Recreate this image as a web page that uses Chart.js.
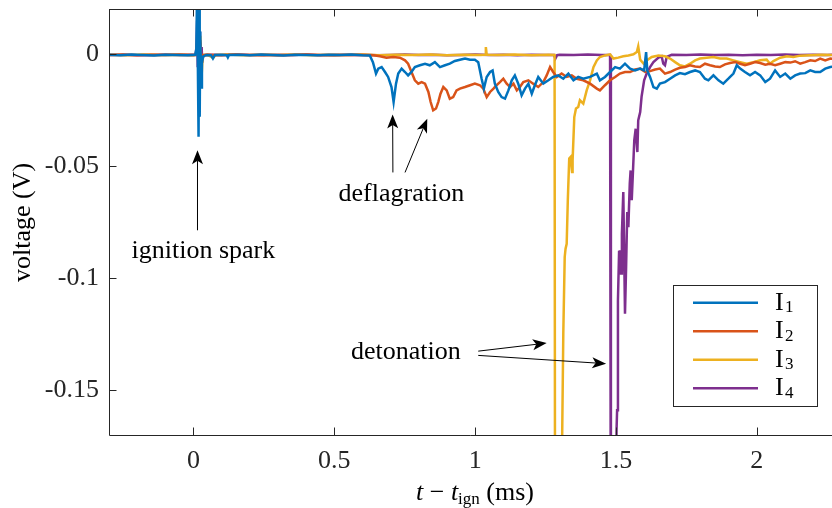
<!DOCTYPE html>
<html>
<head>
<meta charset="utf-8">
<script src="https://cdn.jsdelivr.net/npm/chart.js@4/dist/chart.umd.min.js"></script>
<style>
html,body{margin:0;padding:0;background:#fff;}
#wrap{width:832px;height:508px;position:relative;}
</style>
</head>
<body>
<div id="wrap"><canvas id="c" width="832" height="508"></canvas></div>
<script>
// ---------- data (t in ms, voltage in V) ----------
const seriesNames = ['I1', 'I2', 'I3', 'I4'];
const xTicks = [0, 0.5, 1, 1.5, 2];
const yTicks = [-0.15, -0.1, -0.05, 0];

const I1 = [
[-0.30,-0.0004],[-0.26,-0.0006],[-0.22,-0.0003],[-0.18,-0.0005],[-0.14,-0.0007],[-0.10,-0.0004],[-0.06,-0.0005],[-0.02,-0.0006],
[0.006,-0.0004],[0.010,0.002],[0.013,0.030],[0.016,-0.012],[0.018,-0.037],[0.020,0.025],[0.022,-0.028],[0.024,0.010],[0.027,-0.015],[0.030,-0.004],[0.034,-0.0012],
[0.045,-0.0005],[0.062,-0.0006],[0.069,-0.0021],[0.076,-0.0005],[0.10,-0.0004],[0.118,-0.0006],[0.122,-0.0016],[0.126,-0.0005],
[0.16,-0.0004],[0.20,-0.0006],[0.24,-0.0003],[0.28,-0.0005],[0.32,-0.0007],[0.36,-0.0004],[0.40,-0.0005],[0.44,-0.0006],[0.48,-0.0004],[0.52,-0.0005],[0.56,-0.0003],[0.60,-0.0006],
[0.626,-0.0007],[0.637,-0.0037],[0.648,-0.0088],[0.656,-0.0066],[0.668,-0.0059],[0.680,-0.0081],[0.691,-0.0103],[0.703,-0.0148],[0.7105,-0.0215],[0.719,-0.0133],
[0.727,-0.0088],[0.739,-0.0066],[0.751,-0.0081],[0.762,-0.0096],[0.774,-0.0081],[0.786,-0.0059],[0.804,-0.0051],[0.822,-0.0044],[0.839,-0.0051],[0.857,-0.0037],
[0.875,-0.0059],[0.893,-0.0051],[0.910,-0.0044],[0.928,-0.0032],[0.946,-0.0026],[0.964,-0.0021],[0.982,-0.0026],[0.999,-0.0026],[1.011,-0.0037],[1.023,-0.0111],
[1.031,-0.0155],[1.041,-0.0103],[1.053,-0.0081],[1.062,-0.0074],[1.070,-0.0133],[1.082,-0.0170],[1.094,-0.0193],[1.106,-0.0200],[1.118,-0.0163],[1.130,-0.0118],
[1.141,-0.0096],[1.153,-0.0133],[1.165,-0.0185],[1.177,-0.0155],[1.189,-0.0133],[1.201,-0.0178],[1.212,-0.0140],[1.224,-0.0103],[1.242,-0.0133],[1.260,-0.0118],
[1.277,-0.0103],[1.295,-0.0096],[1.313,-0.0111],[1.331,-0.0088],[1.349,-0.0118],[1.366,-0.0103],[1.384,-0.0111],[1.408,-0.0103],[1.432,-0.0088],[1.443,-0.0118],
[1.461,-0.0103],[1.479,-0.0081],[1.497,-0.0059],[1.514,-0.0066],[1.532,-0.0044],[1.550,-0.0066],[1.568,-0.0074],[1.586,-0.0066],[1.600,-0.0074],[1.607,0.0008],
[1.611,-0.0074],[1.621,-0.0103],[1.633,-0.0148],[1.645,-0.0155],[1.656,-0.0133],[1.674,-0.0126],[1.692,-0.0111],[1.710,-0.0096],[1.727,-0.0086],[1.745,-0.0091],
[1.763,-0.0081],[1.781,-0.0074],[1.798,-0.0081],[1.816,-0.0111],[1.828,-0.0118],[1.846,-0.0096],[1.864,-0.0118],[1.881,-0.0133],[1.899,-0.0111],[1.917,-0.0088],
[1.929,-0.0051],[1.941,-0.0066],[1.958,-0.0081],[1.976,-0.0096],[1.994,-0.0081],[2.012,-0.0096],[2.030,-0.0126],[2.047,-0.0111],[2.065,-0.0074],[2.083,-0.0103],
[2.101,-0.0088],[2.119,-0.0111],[2.136,-0.0096],[2.154,-0.0088],[2.172,-0.0086],[2.190,-0.0074],[2.207,-0.0081],[2.225,-0.0081],[2.243,-0.0066],[2.261,-0.0059],[2.28,-0.0055]
];

const I2 = [
[-0.30,-0.0005],[-0.25,-0.0003],[-0.20,-0.0006],[-0.15,-0.0004],[-0.10,-0.0005],[-0.05,-0.0003],[0.0,-0.0005],
[0.008,-0.0004],[0.012,0.003],[0.016,0.014],[0.020,-0.008],[0.024,0.005],[0.028,-0.003],[0.034,-0.0006],
[0.05,-0.0004],[0.10,-0.0006],[0.15,-0.0003],[0.20,-0.0005],[0.25,-0.0004],[0.30,-0.0006],[0.35,-0.0005],[0.40,-0.0003],[0.45,-0.0005],[0.50,-0.0006],[0.55,-0.0004],[0.60,-0.0005],[0.64,-0.0006],
[0.662,-0.0011],[0.685,-0.0017],[0.709,-0.0014],[0.733,-0.0017],[0.751,-0.0029],[0.762,-0.0044],[0.774,-0.0081],[0.786,-0.0118],[0.798,-0.0133],[0.810,-0.0126],
[0.822,-0.0133],[0.834,-0.0170],[0.842,-0.0215],[0.851,-0.0252],[0.861,-0.0244],[0.869,-0.0215],[0.877,-0.0178],[0.887,-0.0148],[0.899,-0.0163],[0.910,-0.0200],
[0.922,-0.0193],[0.934,-0.0163],[0.946,-0.0155],[0.964,-0.0148],[0.982,-0.0140],[0.999,-0.0133],[1.017,-0.0140],[1.029,-0.0155],[1.041,-0.0193],[1.053,-0.0170],
[1.065,-0.0155],[1.076,-0.0140],[1.088,-0.0126],[1.100,-0.0111],[1.112,-0.0133],[1.124,-0.0148],[1.136,-0.0133],[1.148,-0.0163],[1.159,-0.0148],[1.171,-0.0126],
[1.189,-0.0118],[1.206,-0.0133],[1.224,-0.0148],[1.242,-0.0126],[1.254,-0.0096],[1.266,-0.0059],[1.277,-0.0081],[1.290,-0.0103],[1.307,-0.0088],[1.325,-0.0103],
[1.343,-0.0096],[1.361,-0.0111],[1.384,-0.0118],[1.408,-0.0133],[1.432,-0.0155],[1.443,-0.0163],[1.461,-0.0140],[1.479,-0.0118],[1.497,-0.0103],[1.514,-0.0088],
[1.532,-0.0081],[1.550,-0.0081],[1.568,-0.0070],[1.586,-0.0066],[1.604,-0.0081],[1.621,-0.0077],[1.639,-0.0070],[1.656,-0.0066],[1.674,-0.0088],[1.692,-0.0081],
[1.710,-0.0070],[1.727,-0.0062],[1.745,-0.0059],[1.763,-0.0051],[1.781,-0.0056],[1.798,-0.0059],[1.816,-0.0044],[1.834,-0.0051],[1.852,-0.0056],[1.869,-0.0059],
[1.887,-0.0047],[1.905,-0.0041],[1.923,-0.0037],[1.941,-0.0044],[1.958,-0.0051],[1.976,-0.0044],[1.994,-0.0037],[2.012,-0.0041],[2.030,-0.0048],[2.047,-0.0044],
[2.065,-0.0051],[2.083,-0.0044],[2.101,-0.0037],[2.119,-0.0039],[2.136,-0.0033],[2.154,-0.0044],[2.172,-0.0037],[2.190,-0.0029],[2.207,-0.0032],[2.225,-0.0021],
[2.243,-0.0029],[2.261,-0.0021],[2.28,-0.0024]
];

const I3 = [
[-0.30,-0.0004],[-0.24,-0.0006],[-0.18,-0.0003],[-0.12,-0.0005],[-0.06,-0.0004],[0.0,-0.0006],
[0.008,-0.0004],[0.012,0.002],[0.016,0.015],[0.020,-0.0193],[0.024,0.008],[0.028,-0.012],[0.032,-0.002],[0.036,-0.0005],
[0.05,-0.0004],[0.069,-0.0018],[0.08,-0.0005],[0.12,-0.0003],[0.18,-0.0006],[0.24,-0.0004],[0.30,-0.0005],[0.36,-0.0003],[0.42,-0.0006],[0.48,-0.0004],
[0.54,-0.0005],[0.60,-0.0003],[0.66,-0.0006],[0.72,-0.0004],[0.78,-0.0005],[0.84,-0.0003],[0.90,-0.0006],[0.96,-0.0004],[1.02,-0.0005],
[1.035,-0.0004],[1.038,0.0030],[1.041,-0.0004],[1.08,-0.0005],[1.14,-0.0003],[1.20,-0.0006],[1.26,-0.0004],[1.282,-0.0005],
[1.284,-0.25],[1.306,-0.25],[1.309,-0.1700],[1.313,-0.1247],[1.318,-0.0906],[1.321,-0.0869],[1.325,-0.0847],[1.329,-0.0653],[1.334,-0.0467],[1.339,-0.0460],
[1.344,-0.0527],[1.346,-0.0475],[1.352,-0.0282],[1.358,-0.0244],[1.366,-0.0237],[1.372,-0.0207],[1.384,-0.0222],[1.396,-0.0163],[1.408,-0.0118],[1.420,-0.0059],
[1.432,-0.0029],[1.443,-0.0014],[1.461,-0.0007],[1.479,-0.0002],[1.491,-0.0021],[1.508,-0.0017],[1.526,-0.0011],[1.544,-0.0007],[1.562,-0.0002],[1.574,0.0008],
[1.579,0.0033],[1.586,-0.0026],[1.598,-0.0044],[1.609,-0.0029],[1.627,-0.0014],[1.651,-0.0007],[1.674,-0.0011],[1.692,-0.0021],[1.710,-0.0037],[1.727,-0.0051],
[1.745,-0.0056],[1.763,-0.0044],[1.781,-0.0029],[1.798,-0.0021],[1.822,-0.0017],[1.846,-0.0014],[1.869,-0.0021],[1.893,-0.0021],[1.917,-0.0029],[1.941,-0.0037],
[1.964,-0.0044],[1.988,-0.0037],[2.012,-0.0029],[2.035,-0.0026],[2.047,-0.0044],[2.059,-0.0032],[2.083,-0.0017],[2.107,-0.0011],[2.130,-0.0014],[2.154,-0.0008],
[2.19,-0.0006],[2.23,-0.0004],[2.28,-0.0005]
];

const I4 = [
[-0.30,-0.0005],[-0.25,-0.0004],[-0.20,-0.0006],[-0.15,-0.0005],[-0.10,-0.0003],[-0.05,-0.0005],[0.0,-0.0004],
[0.008,-0.0005],[0.011,0.004],[0.013,0.0149],[0.015,-0.006],[0.017,0.012],[0.019,-0.0096],[0.021,0.010],[0.023,-0.008],[0.025,0.006],[0.027,-0.009],[0.029,0.003],[0.031,-0.004],[0.035,-0.0006],
[0.05,-0.0004],[0.10,-0.0005],[0.15,-0.0003],[0.20,-0.0005],[0.25,-0.0006],[0.30,-0.0004],[0.35,-0.0005],[0.40,-0.0003],[0.45,-0.0006],[0.50,-0.0004],
[0.55,-0.0005],[0.60,-0.0004],[0.65,-0.0006],[0.70,-0.0005],[0.75,-0.0003],[0.80,-0.0005],[0.85,-0.0004],[0.90,-0.0006],[0.95,-0.0005],[1.00,-0.0003],
[1.05,-0.0005],[1.10,-0.0004],[1.15,-0.0006],[1.20,-0.0004],[1.25,-0.0005],[1.280,-0.0005],[1.285,-0.0021],[1.291,-0.0006],[1.30,-0.0004],[1.35,-0.0005],
[1.40,-0.0003],[1.45,-0.0005],[1.479,-0.0005],[1.482,-0.25],[1.499,-0.25],[1.502,-0.168],[1.504,-0.159],[1.507,-0.110],[1.511,-0.0884],[1.514,-0.0876],
[1.518,-0.0980],[1.521,-0.0802],[1.526,-0.0616],[1.529,-0.0876],[1.532,-0.1159],[1.536,-0.0951],[1.540,-0.0706],[1.544,-0.0773],[1.549,-0.0579],[1.552,-0.0520],
[1.556,-0.0653],[1.561,-0.0505],[1.565,-0.0386],[1.570,-0.0334],[1.576,-0.0438],[1.579,-0.0297],[1.586,-0.0260],[1.591,-0.0190],[1.600,-0.0118],[1.609,-0.0088],
[1.621,-0.0059],[1.633,-0.0037],[1.651,-0.0017],[1.662,-0.0011],[1.668,-0.0044],[1.674,-0.0051],[1.680,-0.0014],[1.698,-0.0004],[1.75,-0.0005],[1.80,-0.0003],
[1.85,-0.0005],[1.90,-0.0004],[1.95,-0.0006],[2.00,-0.0004],[2.05,-0.0005],[2.10,-0.0003],[2.15,-0.0005],[2.20,-0.0004],[2.25,-0.0005],[2.28,-0.0004]
];

// ---------- styling ----------
const FONT = '"Liberation Serif", "Times New Roman", serif';
const INK = '#262626';
const COLORS = ['#0072BD', '#D95319', '#EDB120', '#7E2F8E'];

const annotations = [
  {text: 'ignition spark', x: 0.035, y: -0.0912, arrows: [[0.0142, -0.0787, 0.0142, -0.0430]]},
  {text: 'deflagration', x: 0.738, y: -0.0658, arrows: [[0.708, -0.0529, 0.707, -0.0270], [0.751, -0.0529, 0.830, -0.0289]]},
  {text: 'detonation', x: 0.754, y: -0.1362, arrows: [[1.011, -0.1326, 1.254, -0.1290], [1.011, -0.1345, 1.465, -0.1382]]}
];

const toPts = s => s.map(p => ({x: p[0], y: p[1]}));
const fmt = v => String(Math.round(v * 100) / 100);

function arrow(ctx, x0, y0, x1, y1) {
  const ang = Math.atan2(y1 - y0, x1 - x0);
  const L = 14, W = 5.5, N = 10.5;
  ctx.beginPath();
  ctx.moveTo(x0, y0);
  ctx.lineTo(x1 - Math.cos(ang) * N, y1 - Math.sin(ang) * N);
  ctx.stroke();
  const c = Math.cos(ang), s = Math.sin(ang);
  ctx.beginPath();
  ctx.moveTo(x1, y1);
  ctx.lineTo(x1 - c * L - s * W, y1 - s * L + c * W);
  ctx.lineTo(x1 - c * N, y1 - s * N);
  ctx.lineTo(x1 - c * L + s * W, y1 - s * L - c * W);
  ctx.closePath();
  ctx.fill();
}

const matlabLook = {
  id: 'matlabLook',
  afterDatasetsDraw(chart) {
    const {ctx, chartArea: a, scales: {x, y}} = chart;
    ctx.save();
    // axes box (right side lies beyond the visible canvas)
    ctx.strokeStyle = INK; ctx.lineWidth = 1;
    ctx.beginPath();
    ctx.moveTo(a.left + 0.5, a.top); ctx.lineTo(a.left + 0.5, a.bottom + 0.5); ctx.lineTo(a.right, a.bottom + 0.5);
    ctx.moveTo(a.left, a.top + 0.5); ctx.lineTo(a.right, a.top + 0.5);
    ctx.stroke();
    // inward ticks
    const TL = 7.5;
    ctx.beginPath();
    x.ticks.forEach(t => {
      const px = Math.round(x.getPixelForValue(t.value)) + 0.5;
      ctx.moveTo(px, a.bottom); ctx.lineTo(px, a.bottom - TL);
      ctx.moveTo(px, a.top); ctx.lineTo(px, a.top + TL);
    });
    y.ticks.forEach(t => {
      const py = Math.round(y.getPixelForValue(t.value)) + 0.5;
      ctx.moveTo(a.left, py); ctx.lineTo(a.left + TL, py);
    });
    ctx.stroke();

    // annotations
    ctx.fillStyle = '#000'; ctx.strokeStyle = '#000'; ctx.lineWidth = 1;
    ctx.font = '26px ' + FONT; ctx.textAlign = 'center'; ctx.textBaseline = 'alphabetic';
    annotations.forEach(an => {
      ctx.fillText(an.text, x.getPixelForValue(an.x), y.getPixelForValue(an.y));
      an.arrows.forEach(ar => arrow(ctx, x.getPixelForValue(ar[0]), y.getPixelForValue(ar[1]), x.getPixelForValue(ar[2]), y.getPixelForValue(ar[3])));
    });

    // legend
    const lx = 673, ly = 285, lw = 144, lh = 121;
    ctx.fillStyle = '#fff'; ctx.fillRect(lx, ly, lw, lh);
    ctx.strokeStyle = INK; ctx.lineWidth = 1;
    ctx.strokeRect(lx + 0.5, ly + 0.5, lw, lh);
    chart.data.datasets.forEach((d, i) => {
      const ry = 302.7 + i * 28.5;
      ctx.strokeStyle = d.borderColor; ctx.lineWidth = 2.5;
      ctx.beginPath(); ctx.moveTo(693, ry); ctx.lineTo(758, ry); ctx.stroke();
      ctx.fillStyle = '#000'; ctx.textAlign = 'left';
      ctx.font = '26px ' + FONT;
      ctx.fillText(d.label.charAt(0), 775, ry + 6.8);
      ctx.font = '17px ' + FONT;
      ctx.fillText(d.label.slice(1), 785, ry + 9.5);
    });

    // axis titles
    ctx.fillStyle = '#000';
    const parts = [
      {t: 't', f: 'italic 26px ' + FONT, dy: 0},
      {t: ' \u2212 ', f: '26px ' + FONT, dy: 0},
      {t: 't', f: 'italic 26px ' + FONT, dy: 0},
      {t: 'ign', f: '17px ' + FONT, dy: 4},
      {t: ' (ms)', f: '26px ' + FONT, dy: 0}
    ];
    let total = 0;
    parts.forEach(p => { ctx.font = p.f; p.w = ctx.measureText(p.t).width; total += p.w; });
    let cx = 475 - total / 2;
    ctx.textAlign = 'left';
    parts.forEach(p => { ctx.font = p.f; ctx.fillText(p.t, cx, 500 + p.dy); cx += p.w; });

    ctx.save();
    ctx.translate(30, 222.5);
    ctx.rotate(-Math.PI / 2);
    ctx.font = '26px ' + FONT; ctx.textAlign = 'center';
    ctx.fillText('voltage (V)', 0, 0);
    ctx.restore();

    ctx.restore();
  }
};

const datasets = [I1, I2, I3, I4].map((s, i) => ({
  label: seriesNames[i],
  data: toPts(s),
  borderColor: COLORS[i],
  backgroundColor: COLORS[i],
  borderWidth: 2.5,
  pointRadius: 0,
  tension: 0,
  fill: false
}));

new Chart(document.getElementById('c'), {
  type: 'line',
  data: {datasets},
  options: {
    responsive: false,
    animation: false,
    devicePixelRatio: 1,
    layout: {padding: {top: 9, right: 0, left: 0, bottom: 0}},
    plugins: {legend: {display: false}, tooltip: {enabled: false}},
    scales: {
      x: {
        type: 'linear', min: -0.3, max: 2.267,
        grid: {display: false, drawTicks: false},
        border: {display: false},
        afterBuildTicks: s => { s.ticks = xTicks.map(v => ({value: v})); },
        afterFit: s => { s.height = 73; s.paddingLeft = 0; s.paddingRight = 0; },
        ticks: {padding: 11, color: INK, font: {family: FONT, size: 26}, maxRotation: 0, autoSkip: false, callback: v => fmt(v)}
      },
      y: {
        type: 'linear', min: -0.17, max: 0.02,
        grid: {display: false, drawTicks: false},
        border: {display: false},
        afterBuildTicks: s => { s.ticks = yTicks.map(v => ({value: v})); },
        afterFit: s => { s.width = 109; s.paddingTop = 0; s.paddingBottom = 0; },
        ticks: {padding: 10, color: INK, font: {family: FONT, size: 26}, autoSkip: false, callback: v => fmt(v)}
      }
    }
  },
  plugins: [matlabLook]
});
</script>
</body>
</html>
